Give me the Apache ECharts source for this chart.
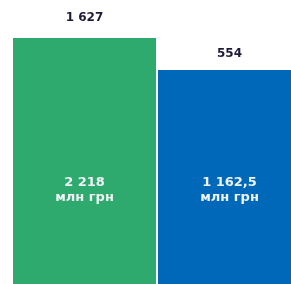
<!doctype html>
<html><head><meta charset="utf-8" />
<style>
  html,body,#app{margin:0;padding:0;width:291px;height:284px;background:#ffffff;overflow:hidden}
</style>
<script src="https://cdn.jsdelivr.net/npm/echarts@6.0.0/dist/echarts.min.js"></script>
</head><body><div id="app"></div>
<script>
// bar values, mln UAH
const categories = ['A', 'B'];
const amounts = [2218, 1162.5];
const amountLabels = ['2 218', '1 162,5'];
const unit = 'млн грн';
// figures printed above the bars
const topLabels = ['1 627', '554'];
const colors = ['#2eaa6e', '#0068b9'];
const topDistance = [14, 10];

const chart = echarts.init(document.getElementById('app'), null, { renderer: 'canvas' });
const font = "'DejaVu Sans', sans-serif";

// the source bars are not drawn to a linear scale; a log axis reproduces their heights
chart.setOption({
  animation: false,
  backgroundColor: '#ffffff',
  grid: { left: 12, top: 0, width: 290, bottom: 0, containLabel: false, outerBoundsMode: 'none' },
  xAxis: { type: 'category', data: categories, show: false },
  yAxis: { type: 'log', logBase: 10, min: 15.46, max: 4776, show: false },
  series: [
    {
      type: 'bar',
      barWidth: 143,
      data: amounts.map((v, i) => ({ value: v, itemStyle: { color: colors[i] } })),
      label: {
        show: true, position: 'insideBottom', distance: 79,
        formatter: p => amountLabels[p.dataIndex] + '\n' + unit,
        color: '#eef3f6', fontFamily: font, fontWeight: 'bold', fontSize: 13, lineHeight: 15
      }
    },
    {
      type: 'bar',
      barWidth: 143,
      barGap: '-100%',
      silent: true,
      data: amounts.map((v, i) => ({ value: v, label: { distance: topDistance[i] } })),
      itemStyle: { color: 'rgba(0,0,0,0)' },
      label: {
        show: true, position: 'top',
        formatter: p => topLabels[p.dataIndex],
        color: '#1e1a3a', fontFamily: font, fontWeight: 'bold', fontSize: 12
      }
    }
  ]
});
</script></body></html>
